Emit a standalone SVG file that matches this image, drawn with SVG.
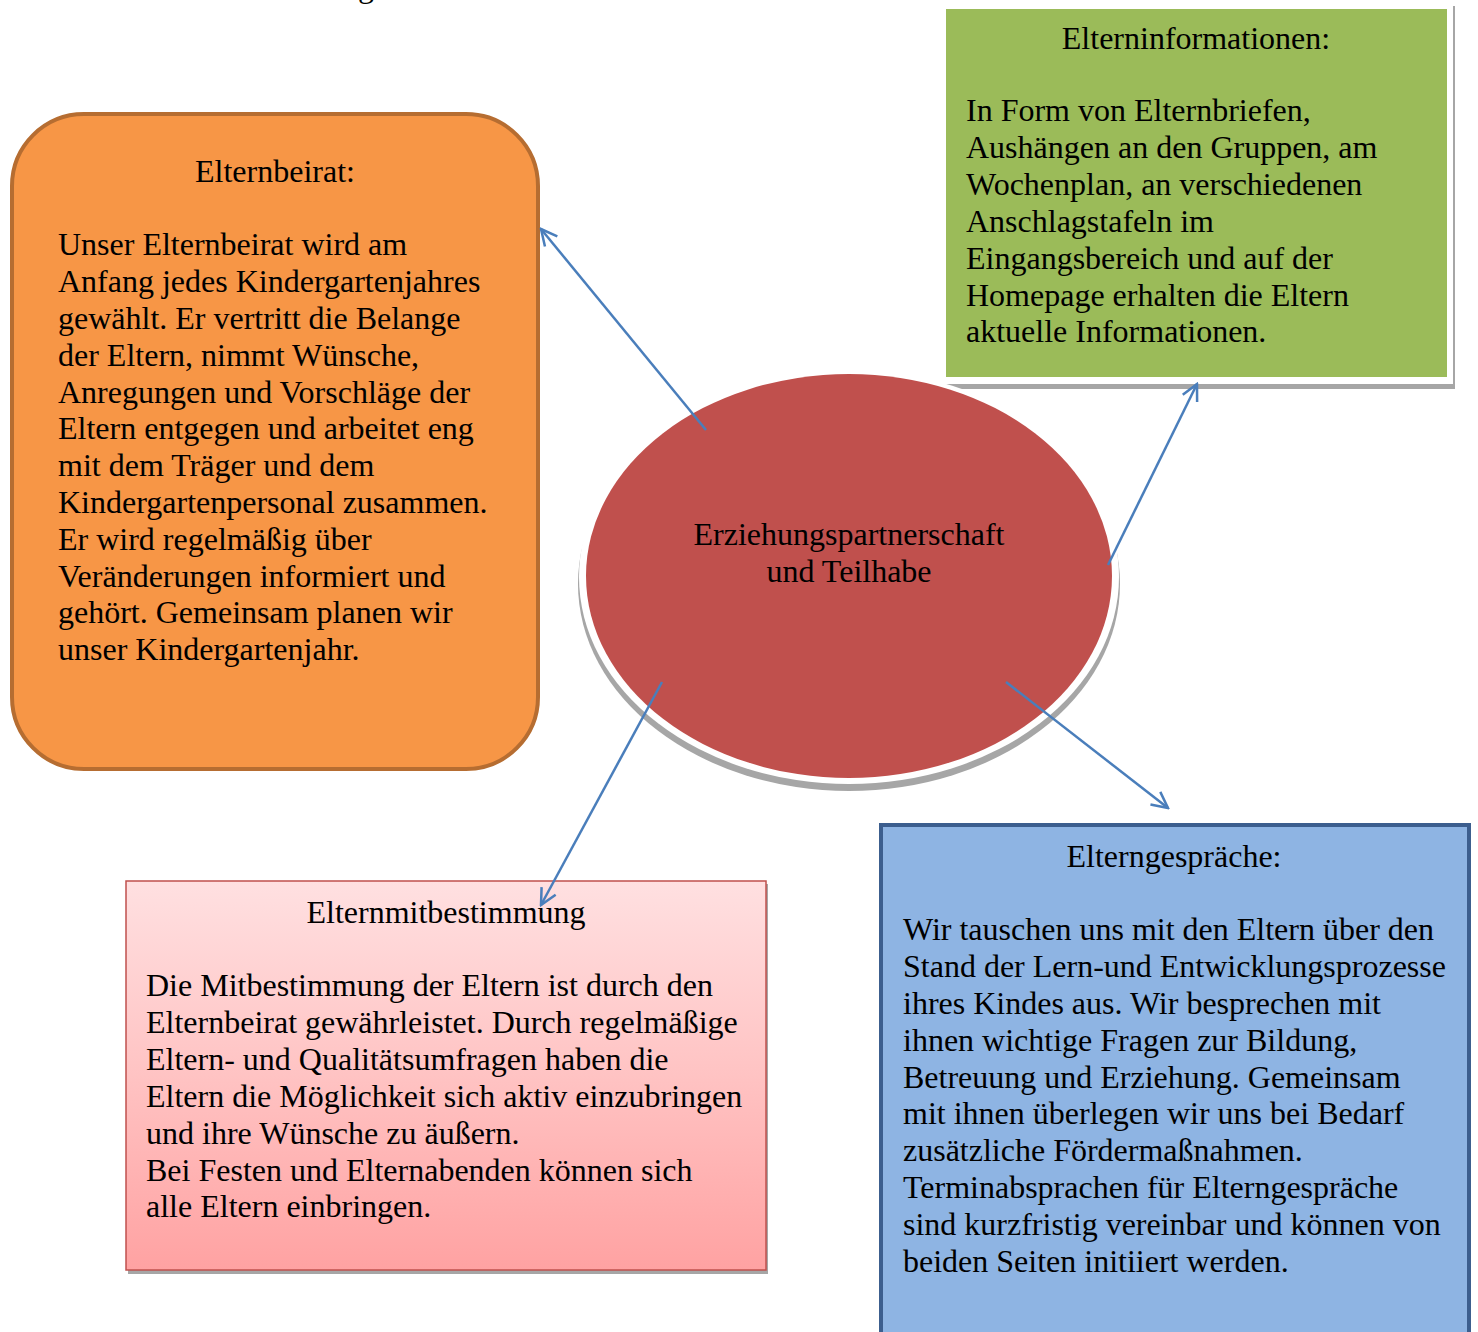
<svg xmlns="http://www.w3.org/2000/svg" width="1478" height="1332" viewBox="0 0 1478 1332">
<style>
text{font-family:"Liberation Serif","Times New Roman",serif;font-size:32px;fill:#000}
.c{text-anchor:middle}
.conn line{stroke:#4A7EBB;stroke-width:2.5;fill:none}
</style>
<defs>
<marker id="ah" viewBox="0 0 20 20" refX="18" refY="10" markerWidth="20" markerHeight="20" markerUnits="userSpaceOnUse" orient="auto">
<path d="M2,2 L18,10 L2,18" fill="none" stroke="#4A7EBB" stroke-width="2.5"/>
</marker>
<linearGradient id="pg" x1="0" y1="0" x2="0" y2="1">
<stop offset="0" stop-color="#FFE0E1"/>
<stop offset="0.5" stop-color="#FFC3C3"/>
<stop offset="1" stop-color="#FFA2A2"/>
</linearGradient>
</defs>
<rect width="1478" height="1332" fill="#fff"/>
<text x="358" y="-3">g</text>

<g id="elternbeirat">
<rect x="12" y="114" width="526" height="655" rx="72" fill="#F79646" stroke="#B66D31" stroke-width="4"/>
<text class="c" x="275" y="182">Elternbeirat:</text>
<text x="58" y="255">Unser Elternbeirat wird am</text>
<text x="58" y="292">Anfang jedes Kindergartenjahres</text>
<text x="58" y="329">gewählt. Er vertritt die Belange</text>
<text x="58" y="366">der Eltern, nimmt Wünsche,</text>
<text x="58" y="403">Anregungen und Vorschläge der</text>
<text x="58" y="439">Eltern entgegen und arbeitet eng</text>
<text x="58" y="476">mit dem Träger und dem</text>
<text x="58" y="513">Kindergartenpersonal zusammen.</text>
<text x="58" y="550">Er wird regelmäßig über</text>
<text x="58" y="587">Veränderungen informiert und</text>
<text x="58" y="623">gehört. Gemeinsam planen wir</text>
<text x="58" y="660">unser Kindergartenjahr.</text>
</g>

<g id="elterninformationen">
<rect x="940" y="6" width="515" height="383" fill="#A6A6A6"/>
<rect x="938" y="3" width="515" height="381" fill="#fff"/>
<rect x="946" y="9" width="501" height="368" fill="#9BBB59"/>
<text class="c" x="1196" y="49">Elterninformationen:</text>
<text x="966" y="121">In Form von Elternbriefen,</text>
<text x="966" y="158">Aushängen an den Gruppen, am</text>
<text x="966" y="195">Wochenplan, an verschiedenen</text>
<text x="966" y="232">Anschlagstafeln im</text>
<text x="966" y="269">Eingangsbereich und auf der</text>
<text x="966" y="306">Homepage erhalten die Eltern</text>
<text x="966" y="342">aktuelle Informationen.</text>
</g>

<g id="zentrum">
<ellipse cx="849" cy="584" rx="271" ry="207" fill="#A6A6A6"/>
<ellipse cx="849" cy="577" rx="270" ry="207" fill="#fff"/>
<ellipse cx="849" cy="576" rx="263" ry="202" fill="#C0504D"/>
<text class="c" x="849" y="545">Erziehungspartnerschaft</text>
<text class="c" x="849" y="582">und Teilhabe</text>
</g>

<g id="elternmitbestimmung">
<rect x="128" y="884" width="640" height="390" fill="#A6A6A6"/>
<rect x="126" y="881" width="640" height="389" fill="url(#pg)" stroke="#C0504D" stroke-width="1.5"/>
<text class="c" x="446" y="923">Elternmitbestimmung</text>
<text x="146" y="996">Die Mitbestimmung der Eltern ist durch den</text>
<text x="146" y="1033">Elternbeirat gewährleistet. Durch regelmäßige</text>
<text x="146" y="1070">Eltern- und Qualitätsumfragen haben die</text>
<text x="146" y="1107">Eltern die Möglichkeit sich aktiv einzubringen</text>
<text x="146" y="1144">und ihre Wünsche zu äußern.</text>
<text x="146" y="1181">Bei Festen und Elternabenden können sich</text>
<text x="146" y="1217">alle Eltern einbringen.</text>
</g>

<g id="elterngespraeche">
<rect x="881" y="825" width="588" height="520" fill="#8EB4E3" stroke="#3C5E8E" stroke-width="4"/>
<text class="c" x="1174" y="867">Elterngespräche:</text>
<text x="903" y="940">Wir tauschen uns mit den Eltern über den</text>
<text x="903" y="977">Stand der Lern-und Entwicklungsprozesse</text>
<text x="903" y="1014">ihres Kindes aus. Wir besprechen mit</text>
<text x="903" y="1051">ihnen wichtige Fragen zur Bildung,</text>
<text x="903" y="1088">Betreuung und Erziehung. Gemeinsam</text>
<text x="903" y="1124">mit ihnen überlegen wir uns bei Bedarf</text>
<text x="903" y="1161">zusätzliche Fördermaßnahmen.</text>
<text x="903" y="1198">Terminabsprachen für Elterngespräche</text>
<text x="903" y="1235">sind kurzfristig vereinbar und können von</text>
<text x="903" y="1272">beiden Seiten initiiert werden.</text>
</g>

<g id="connectors" class="conn">
<line x1="706" y1="430" x2="541" y2="229" marker-end="url(#ah)"/>
<line x1="1108" y1="565" x2="1197" y2="384" marker-end="url(#ah)"/>
<line x1="662" y1="682" x2="541" y2="905" marker-end="url(#ah)"/>
<line x1="1006" y1="682" x2="1168" y2="808" marker-end="url(#ah)"/>
</g>
</svg>
